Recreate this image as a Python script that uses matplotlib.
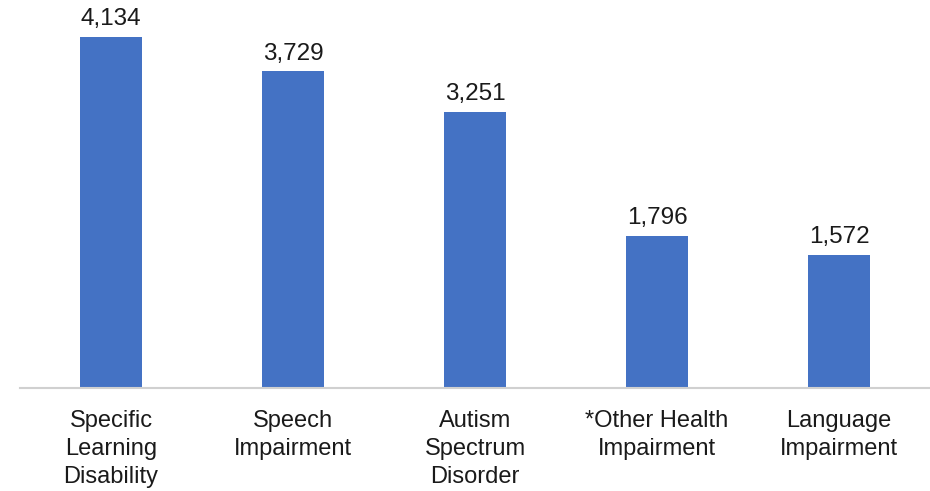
import matplotlib
matplotlib.use("Agg")
import matplotlib.pyplot as plt

categories = ["Specific\nLearning\nDisability", "Speech\nImpairment", "Autism\nSpectrum\nDisorder",
              "*Other Health\nImpairment", "Language\nImpairment"]
counts = [4134, 3729, 3251, 1796, 1572]

plt.rcParams['font.family'] = ['Liberation Sans', 'DejaVu Sans']

fig = plt.figure(figsize=(9.3, 4.91), dpi=100)
ax = fig.add_axes([20/930, 103/491, 910/930, 388/491])

x = range(len(counts))
bars = ax.bar(x, counts, width=0.34, color='#4472c4')
for b, v in zip(bars, counts):
    ax.text(b.get_x() + b.get_width()/2, v + 80, f"{v:,}", ha='center', va='bottom',
            fontsize=17.5, color='#1a1a1a')

ax.set_xlim(-0.5, 4.5)
ax.set_ylim(0, 4570)
ax.set_xticks(list(x))
ax.set_xticklabels(categories, fontsize=17, color='#1a1a1a', linespacing=1.36)
ax.tick_params(axis='x', length=0, pad=16)
ax.set_yticks([])
for s in ['top', 'right', 'left']:
    ax.spines[s].set_visible(False)
ax.spines['bottom'].set_color('#d0d0d0')
ax.spines['bottom'].set_linewidth(1.5)

fig.savefig("out.png", dpi=100)
